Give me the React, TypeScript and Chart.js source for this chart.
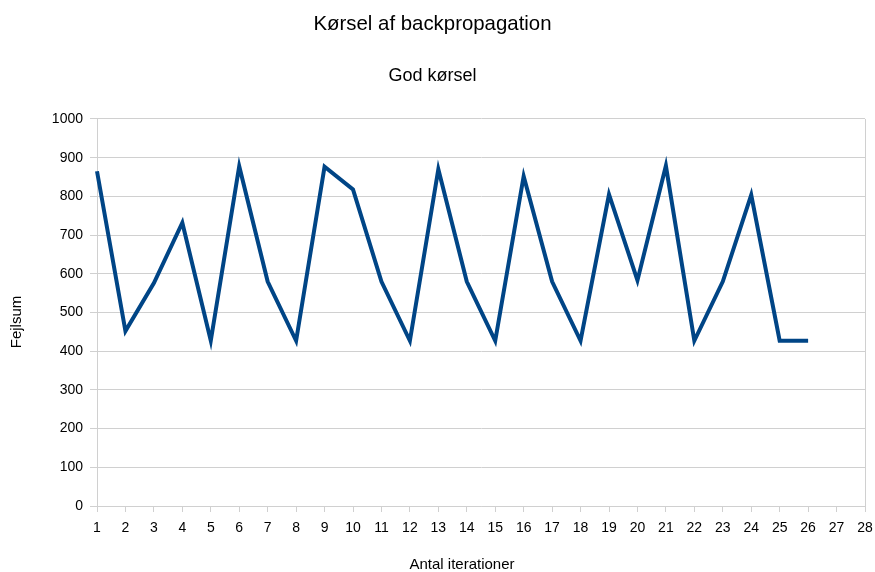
import { useEffect, useRef } from "react";
import { Chart, registerables } from "chart.js";

Chart.register(...registerables);

// Iteration numbers shown on the horizontal axis
const iterationLabels = [
  "1", "2", "3", "4", "5", "6", "7", "8", "9", "10",
  "11", "12", "13", "14", "15", "16", "17", "18", "19", "20",
  "21", "22", "23", "24", "25", "26", "27", "28",
];

// Error sum recorded after each iteration
const errorSums = [
  865, 452, 576, 732, 427, 878, 580, 427, 877, 818,
  580, 427, 870, 580, 427, 852, 580, 427, 805, 583,
  879, 427, 580, 804, 427, 427,
];

const chartTitle = "Kørsel af backpropagation";
const chartSubtitle = "God kørsel";
const xAxisTitle = "Antal iterationer";
const yAxisTitle = "Fejlsum";

const yMin = 0;
const yMax = 1000;
const yStep = 100;

const FONT = "'Liberation Sans', Arial, sans-serif";
const GRID = "#d0d0d0";
const LINE = "#004586";

// Axis captions placed like the office-chart layout (slightly off the plot centre)
const axisCaptions = {
  id: "axisCaptions",
  afterDraw(chart: any) {
    const { ctx } = chart;
    ctx.save();
    ctx.fillStyle = "#000";
    ctx.font = `15px ${FONT}`;
    ctx.textAlign = "center";
    ctx.textBaseline = "middle";
    ctx.fillText(xAxisTitle, 462, 565);
    ctx.translate(17, 322);
    ctx.rotate(-Math.PI / 2);
    ctx.fillText(yAxisTitle, 0, 0);
    ctx.restore();
  },
};

export default function App() {
  const canvasRef = useRef<HTMLCanvasElement | null>(null);

  useEffect(() => {
    const canvas = canvasRef.current;
    if (!canvas) return;
    const lastIndex = iterationLabels.length - 1;

    const chart = new Chart(canvas, {
      type: "line",
      data: {
        labels: iterationLabels,
        datasets: [
          {
            label: yAxisTitle,
            data: errorSums,
            borderColor: LINE,
            backgroundColor: LINE,
            borderWidth: 4,
            pointRadius: 0,
            pointHoverRadius: 0,
            tension: 0,
            fill: false,
          },
        ],
      },
      options: {
        responsive: false,
        devicePixelRatio: 1,
        animation: false,
        events: [],
        layout: { padding: { left: 0, right: 10, top: 0, bottom: 0 } },
        plugins: {
          legend: { display: false },
          tooltip: { enabled: false },
          title: {
            display: true,
            text: chartTitle,
            color: "#000",
            font: { family: FONT, size: 20.4, weight: "normal" },
            padding: { top: 12.6, bottom: 0 },
          },
          subtitle: {
            display: true,
            text: chartSubtitle,
            color: "#000",
            font: { family: FONT, size: 18, weight: "normal" },
            padding: { top: 28.2, bottom: 32.1 },
          },
        },
        scales: {
          x: {
            type: "category",
            offset: false,
            grid: {
              display: true,
              drawOnChartArea: true,
              color: (c: any) =>
                c.index === 0 || c.index === lastIndex ? GRID : "rgba(0,0,0,0)",
              tickColor: GRID,
              tickLength: 6,
              lineWidth: 1,
            },
            border: { display: true, color: GRID },
            ticks: {
              color: "#000",
              font: { family: FONT, size: 14 },
              padding: 8,
              autoSkip: false,
              maxRotation: 0,
              minRotation: 0,
            },
            afterFit(scale: any) {
              scale.height = 66;
              scale.paddingLeft = 0;
              scale.paddingRight = 10;
            },
          },
          y: {
            type: "linear",
            min: yMin,
            max: yMax,
            grid: {
              color: GRID,
              tickColor: GRID,
              tickLength: 7,
              lineWidth: 1,
            },
            border: { display: true, color: GRID },
            ticks: {
              stepSize: yStep,
              color: "#000",
              font: { family: FONT, size: 14 },
              padding: 7,
              callback: (v: any) => String(v),
            },
            afterFit(scale: any) {
              scale.width = 97;
            },
          },
        },
      },
      plugins: [axisCaptions],
    });

    return () => chart.destroy();
  }, []);

  return (
    <div style={{ position: "fixed", left: 0, top: 0, width: 875, height: 572, background: "#fff" }}>
      <canvas ref={canvasRef} width={875} height={572} />
    </div>
  );
}
